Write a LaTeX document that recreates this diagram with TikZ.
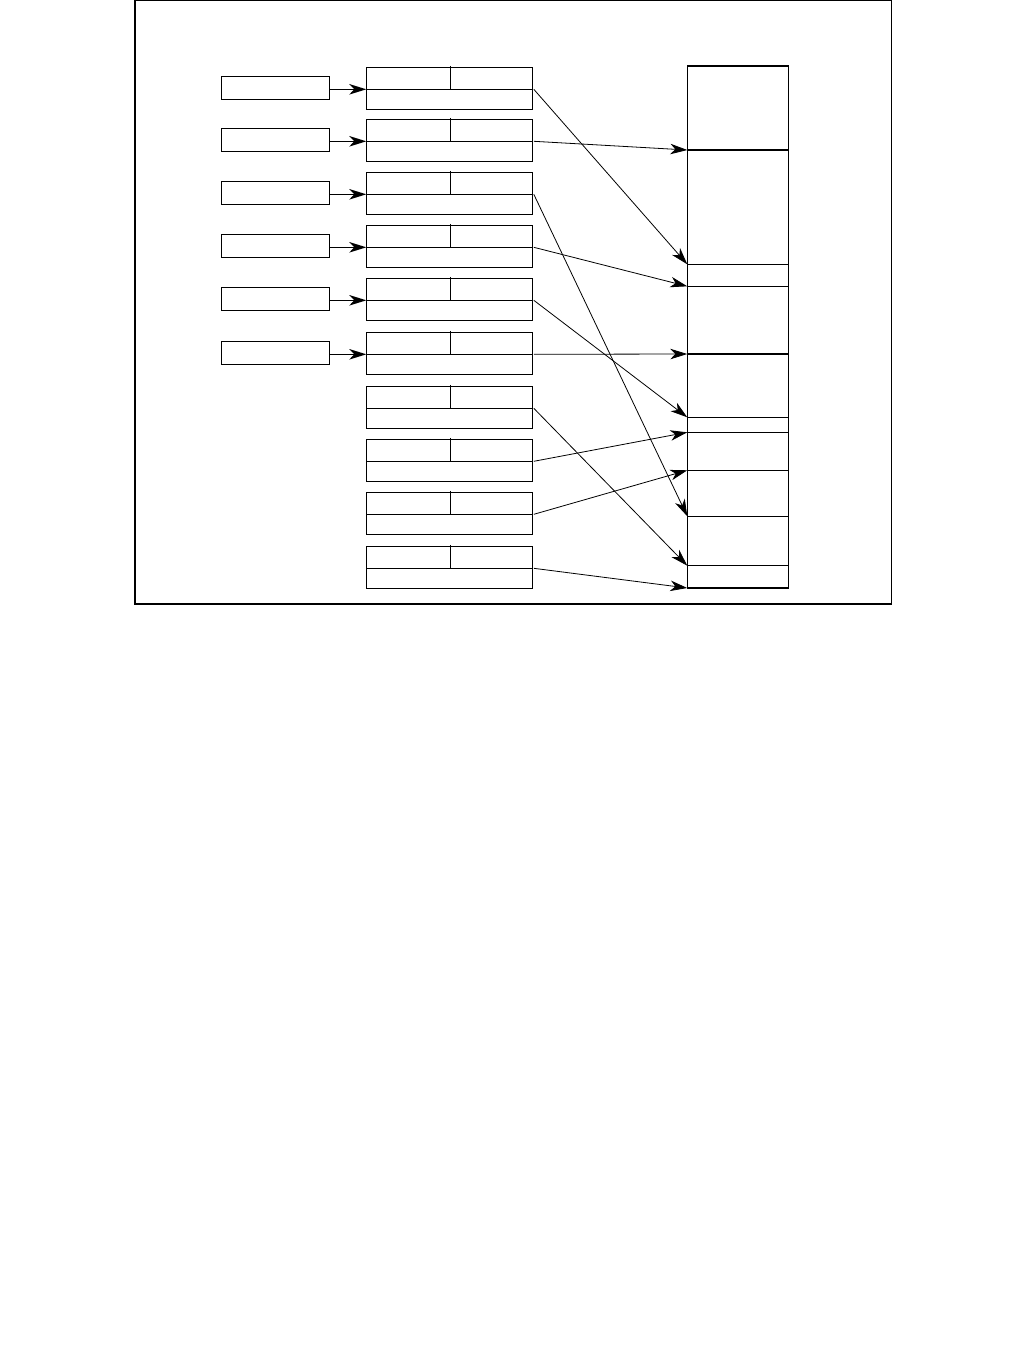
\documentclass[tikz,border=0pt]{standalone}
\usetikzlibrary{arrows.meta}
\begin{document}
\begin{tikzpicture}[x=1pt,y=-1pt,
  frame/.style={draw,line width=1.3pt},
  lbox/.style={draw,line width=1.3pt,inner sep=0,outer sep=0,minimum width=108pt,minimum height=23pt,anchor=north west},
  mbox/.style={draw,line width=1.3pt,inner sep=0,outer sep=0,minimum width=166pt,minimum height=42pt,anchor=north west},
  rcol/.style={draw,line width=1.3pt,inner sep=0,outer sep=0,minimum width=101pt,minimum height=522pt,anchor=north west},
  sep/.style={line width=1.3pt},
  harrow/.style={line width=1.3pt,-{Stealth[length=17pt,width=10.5pt,inset=5pt]}},
  link/.style={line width=0.8pt,-{Stealth[length=17pt,width=10.5pt,inset=5pt]}}]
\useasboundingbox (0,0) rectangle (1026,1358);
\draw[frame] (135,0.7) rectangle (891.5,604);
% middle boxes
\foreach \i/\t in {1/67.3,2/119.3,3/172.3,4/225.3,5/278.3,6/332.3,7/386.3,8/439.3,9/492.3,10/546.3}{
  \node[mbox] (m\i) at (366.3,\t) {};
  \coordinate (m\i l) at ([yshift=-22pt]m\i.north west);
  \coordinate (m\i r) at ([yshift=-22pt]m\i.north east);
  \coordinate (m\i d) at ([xshift=84pt,yshift=1.5pt]m\i.north west);
  \draw[sep] (m\i l) -- (m\i r);
  \draw[sep] (m\i d) -- (m\i d |- m\i l);
}
% left boxes
\foreach \i in {1,...,6}{
  \node[lbox] (l\i) at ([yshift=13pt]221.3,0 |- m\i l) {};
  \draw[harrow] (l\i.east |- m\i l) -- (m\i l);
}
% right column
\node[rcol] (col) at (687.3,66) {};
\foreach \y/\n in {150/a,264.3/b,286.3/c,354/d,417.3/e,432.3/f,470.3/g,516.3/h,565.7/i}{
  \coordinate (p\n) at (687.3,\y);
  \draw[sep] (p\n) -- (p\n -| col.east);
}
\coordinate (pz) at (col.south west);
% links
\draw[link] ([xshift=1.5pt]m1r) -- (pb);
\draw[link] ([xshift=1.5pt]m2r) -- (pa);
\draw[link] ([xshift=1.5pt]m3r) -- (ph);
\draw[link] ([xshift=1.5pt]m4r) -- (pc);
\draw[link] ([xshift=1.5pt]m5r) -- (pe);
\draw[link] ([xshift=1.5pt]m6r) -- (pd);
\draw[link] ([xshift=1.5pt]m7r) -- (pi);
\draw[link] ([xshift=1.5pt]m8r) -- (pf);
\draw[link] ([xshift=1.5pt]m9r) -- (pg);
\draw[link] ([xshift=1.5pt]m10r) -- (pz);
\end{tikzpicture}
\end{document}
